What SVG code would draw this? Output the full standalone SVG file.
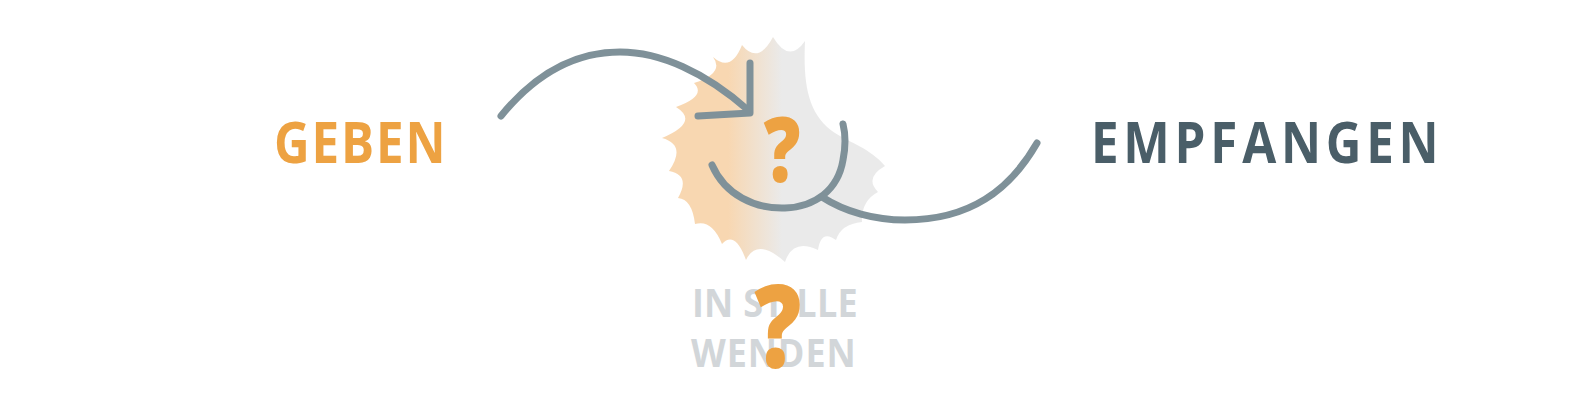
<svg xmlns="http://www.w3.org/2000/svg" width="1587" height="402" viewBox="0 0 1587 402">
<defs>
<linearGradient id="burstGrad" gradientUnits="userSpaceOnUse" x1="728" y1="0" x2="782" y2="0">
<stop offset="0" stop-color="#F8D7B1"/>
<stop offset="1" stop-color="#EAEAEA"/>
</linearGradient>
<style>
.lbl{font-family:"Open Sans","Liberation Sans",sans-serif;font-weight:700;}
.conn{fill:none;stroke:#7F9199;stroke-width:7;stroke-linecap:round;stroke-linejoin:round;}
.q{font-family:"Open Sans","Liberation Sans",sans-serif;font-weight:800;fill:#EDA242;text-anchor:middle;}
</style>
</defs>
<rect width="1587" height="402" fill="#FFFFFF"/>
<g id="burst">
<path fill="url(#burstGrad)" d="M713,57 Q731,73 742,45 Q758,65 773,37 Q789,64 805,41 C803,85 808,115 835,133 C850,143 870,148 885,166 Q864,178 878,192 Q861,201 862,222 Q841,224 836,240 Q821,229 818,250 Q793,238 785,262 Q757,237 746,260 Q735,230 722,244 Q712,219 695,224 Q692,199 678,198 Q691,175 669,171 Q687,145 662,138 Q700,122 676,107 Q707,96 694,83 Q725,73 713,57 Z"/>
</g>
<g id="connectors">
<path class="conn" d="M501,116 C540,68 580,52 620,52 C660,52 705,72 748,110"/>
<path class="conn" d="M750,63 L750,113 L698,116"/>
<path class="conn" d="M712,165 C725,195 755,209 785,208 C815,207 838,190 843,160 C846,145 845,132 843,124"/>
<path class="conn" d="M822,197 C845,212 875,220 905,220 C970,220 1010,190 1037,143"/>
</g>
<g id="geben">
<text class="lbl" transform="translate(274,163) scale(0.85,1)" x="0" y="0" font-size="58" fill="#EDA242" textLength="202" lengthAdjust="spacing">GEBEN</text>
</g>
<g id="empfangen">
<text class="lbl" transform="translate(1091,163) scale(0.85,1)" x="0" y="0" font-size="58" fill="#4A5E68" textLength="409" lengthAdjust="spacing">EMPFANGEN</text>
</g>
<g id="center-question">
<text class="q" transform="translate(782,182) scale(0.8,1)" font-size="91">?</text>
</g>
<g id="in-stille-wenden">
<text class="lbl" transform="translate(692,317) scale(0.9,1)" x="0" y="0" font-size="40" fill="#D2D6D9" textLength="184" lengthAdjust="spacing">IN STILLE</text>
<text class="lbl" transform="translate(691,367) scale(0.9,1)" x="0" y="0" font-size="40" fill="#D2D6D9" textLength="183" lengthAdjust="spacing">WENDEN</text>
<text class="q" transform="translate(778,368) scale(0.8,1)" font-size="116">?</text>
</g>
</svg>
